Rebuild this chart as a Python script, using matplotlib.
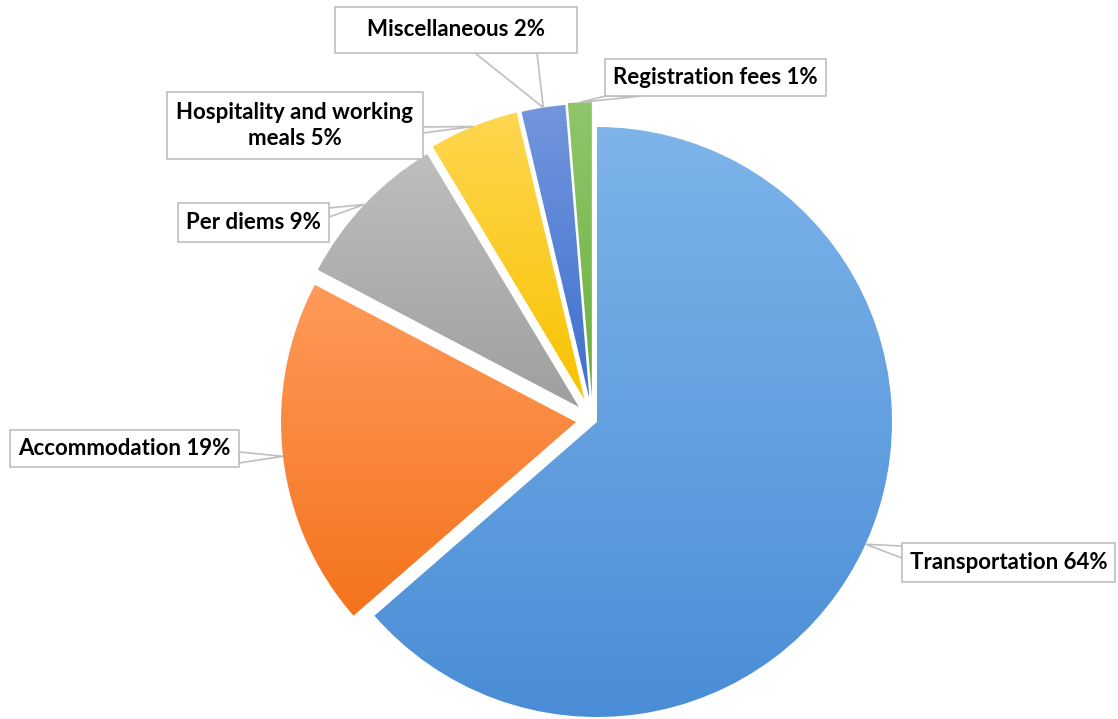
import textwrap
import matplotlib
matplotlib.use("Agg")
import matplotlib.pyplot as plt
import numpy as np
from matplotlib.colors import to_rgb
from matplotlib.patches import Polygon, Rectangle

# Cost breakdown (share of total, %)
categories = ['Transportation', 'Accommodation', 'Per diems',
              'Hospitality and working meals', 'Miscellaneous', 'Registration fees']
shares = [63.6, 19.1, 8.7, 4.9, 2.4, 1.3]

# gradient fill per slice: (top, bottom)
grad_colors = [('#7db4ea', '#4a8dd6'),
               ('#ff9a5a', '#f4731c'),
               ('#bebebe', '#9f9f9f'),
               ('#ffd650', '#f8c300'),
               ('#7396dd', '#3e70cf'),
               ('#8fc66c', '#6bb23d')]

# slice offsets (px) and label boxes in image coords: x0, y0, x1, y1
explode = [4.6, 16.9, 19.0, 22.0, 21.4, 23.0]
boxes = [(902, 543, 1115, 582),
         (10, 430, 239, 467),
         (178, 203, 329, 242),
         (167, 92, 423, 159),
         (335, 7, 577, 53),
         (605, 59, 826, 96)]
# where the callout pointer meets the box
bases = [((902, 546), (902, 558)),
         ((239, 452), (239, 463)),
         ((329, 208), (329, 217)),
         ((423, 127), (423, 133)),
         ((475, 53), (537, 53)),
         ((606, 96), (642, 96))]

W, H = 1118, 719
fig = plt.figure(figsize=(W / 100, H / 100), dpi=100)
ax = fig.add_axes([0, 0, 1, 1])

wedges, _ = ax.pie(shares, explode=explode, radius=295, center=(592.8, H - 420.1),
                   startangle=90, counterclock=False,
                   colors=[c[1] for c in grad_colors],
                   wedgeprops=dict(linewidth=0))

# vertical gradient inside each slice
for w, (top, bot) in zip(wedges, grad_colors):
    ext = w.get_path().get_extents()
    t = np.linspace(0, 1, 256)[:, None, None]
    img = (1 - t) * np.array(to_rgb(top)) + t * np.array(to_rgb(bot))
    im = ax.imshow(img, extent=(ext.x0, ext.x1, ext.y0, ext.y1), origin='upper',
                   aspect='auto', interpolation='bilinear', zorder=1)
    im.set_clip_path(w)
    w.set_facecolor('none')

edge = '#bfbfbf'
for w, name, v, box, base in zip(wedges, categories, shares, boxes, bases):
    ang = np.deg2rad((w.theta1 + w.theta2) / 2)
    tip = (w.center[0] + w.r * np.cos(ang), w.center[1] + w.r * np.sin(ang))
    pts = [tip, (base[0][0], H - base[0][1]), (base[1][0], H - base[1][1])]
    ax.add_patch(Polygon(pts, closed=True, facecolor='white', edgecolor=edge,
                         linewidth=1.2, zorder=3))
    x0, y0, x1, y1 = box
    ax.add_patch(Rectangle((x0, H - y1), x1 - x0, y1 - y0, facecolor='white',
                           edgecolor=edge, linewidth=1.2, zorder=4))
    label = textwrap.fill(f'{name} {round(v)}%', 23)
    ax.text((x0 + x1) / 2, H - (y0 + y1) / 2, label, ha='center', va='center',
            fontsize=16, fontweight='bold', family='Lato', color='black',
            linespacing=1.3, zorder=5)

ax.set_xlim(0, W)
ax.set_ylim(0, H)
ax.set_aspect('auto')
ax.axis('off')

fig.savefig('out.png', dpi=100, facecolor='white')
